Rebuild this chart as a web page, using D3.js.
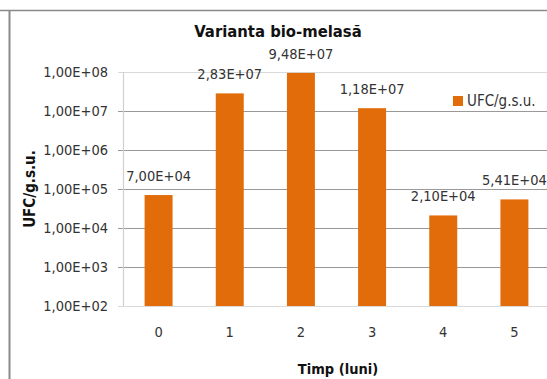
<!DOCTYPE html>
<html>
<head>
<meta charset="utf-8">
<script src="https://cdn.jsdelivr.net/npm/d3@7"></script>
<style>
  html, body { margin: 0; padding: 0; background: #fff; }
  svg { display: block; }
  text { font-family: "Liberation Sans Narrow", "DejaVu Sans Condensed", "Liberation Sans", sans-serif; }
</style>
</head>
<body>
<svg id="chart" width="547" height="379"></svg>
<script>
const categories = ["0", "1", "2", "3", "4", "5"];
const values = [7.00e4, 2.83e7, 9.48e7, 1.18e7, 2.10e4, 5.41e4];
const yTicks = [1e2, 1e3, 1e4, 1e5, 1e6, 1e7, 1e8];
const title = "Varianta bio-melasă";
const seriesName = "UFC/g.s.u.";
const yTitle = "UFC/g.s.u.";
const xTitle = "Timp (luni)";

const svg = d3.select("#chart");
const W = 547, H = 379;
const plot = { left: 123, right: 550, top: 72, bottom: 306 };
const orange = "#E36C0A";

function sci(v) {
  const e = Math.floor(Math.log10(v) + 1e-9);
  const m = v / Math.pow(10, e);
  return m.toFixed(2).replace(".", ",") + "E+" + String(e).padStart(2, "0");
}

// frame
svg.append("line").attr("x1", 0).attr("x2", W).attr("y1", 10.5).attr("y2", 10.5)
  .attr("stroke", "#8a8a8a").attr("stroke-width", 1.5);
svg.append("line").attr("x1", 9.5).attr("x2", 9.5).attr("y1", 10).attr("y2", H)
  .attr("stroke", "#8a8a8a").attr("stroke-width", 2);

const x = d3.scaleBand().domain(categories).range([plot.left, plot.right])
  .paddingInner(0.607).paddingOuter(0.3035);
const y = d3.scaleLog().domain([1e2, 1e8]).range([plot.bottom, plot.top]);

// gridlines
svg.append("g").selectAll("line").data(yTicks).join("line")
  .attr("x1", plot.left - 5).attr("x2", W)
  .attr("y1", d => Math.round(y(d)) + 0.5).attr("y2", d => Math.round(y(d)) + 0.5)
  .attr("stroke", d => (d === 1e2 || d === 1e8) ? "#d9d9d9" : "#999999")
  .attr("stroke-width", 1.2);

// y axis line
svg.append("line").attr("x1", plot.left + 0.5).attr("x2", plot.left + 0.5)
  .attr("y1", plot.top).attr("y2", plot.bottom)
  .attr("stroke", "#d0d0d0").attr("stroke-width", 1.2);

// y axis labels
const yAxis = d3.axisLeft(y).tickValues(yTicks).tickFormat(sci).tickSize(0).tickPadding(15);
const gy = svg.append("g").attr("transform", `translate(${plot.left},0)`).call(yAxis);
gy.select(".domain").remove();
gy.selectAll("text").attr("font-size", 14.5).attr("fill", "#333")
  .attr("font-family", "'Liberation Sans Narrow', 'DejaVu Sans Condensed', sans-serif");

// x axis labels
const xAxis = d3.axisBottom(x).tickSize(0).tickPadding(21);
const gx = svg.append("g").attr("transform", `translate(0,${plot.bottom})`).call(xAxis);
gx.select(".domain").remove();
gx.selectAll("text").attr("font-size", 14.5).attr("fill", "#333")
  .attr("font-family", "'Liberation Sans Narrow', 'DejaVu Sans Condensed', sans-serif");

// bars
svg.append("g").selectAll("rect").data(values).join("rect")
  .attr("x", (d, i) => x(categories[i]))
  .attr("width", x.bandwidth())
  .attr("y", d => y(d))
  .attr("height", d => plot.bottom - y(d))
  .attr("fill", orange);

// data labels
svg.append("g").selectAll("text").data(values).join("text")
  .attr("x", (d, i) => x(categories[i]) + x.bandwidth() / 2)
  .attr("y", d => y(d) - 14)
  .attr("text-anchor", "middle")
  .attr("font-size", 14.5).attr("fill", "#333")
  .text(d => sci(d));

// title
svg.append("text").attr("x", 278).attr("y", 37).attr("text-anchor", "middle")
  .attr("font-size", 16.5).attr("font-weight", "bold").attr("fill", "#111")
  .text(title);

// y title
svg.append("text").attr("transform", "translate(35,189) rotate(-90)")
  .attr("text-anchor", "middle").attr("font-size", 15).attr("font-weight", "bold")
  .attr("fill", "#111").text(yTitle);

// x title
svg.append("text").attr("x", 338).attr("y", 374).attr("text-anchor", "middle")
  .attr("font-size", 14.5).attr("font-weight", "bold").attr("fill", "#111")
  .text(xTitle);

// legend
svg.append("rect").attr("x", 453).attr("y", 96).attr("width", 10).attr("height", 10).attr("fill", orange);
svg.append("text").attr("x", 467).attr("y", 106).attr("font-size", 15).attr("fill", "#333")
  .text(seriesName);
</script>
</body>
</html>
